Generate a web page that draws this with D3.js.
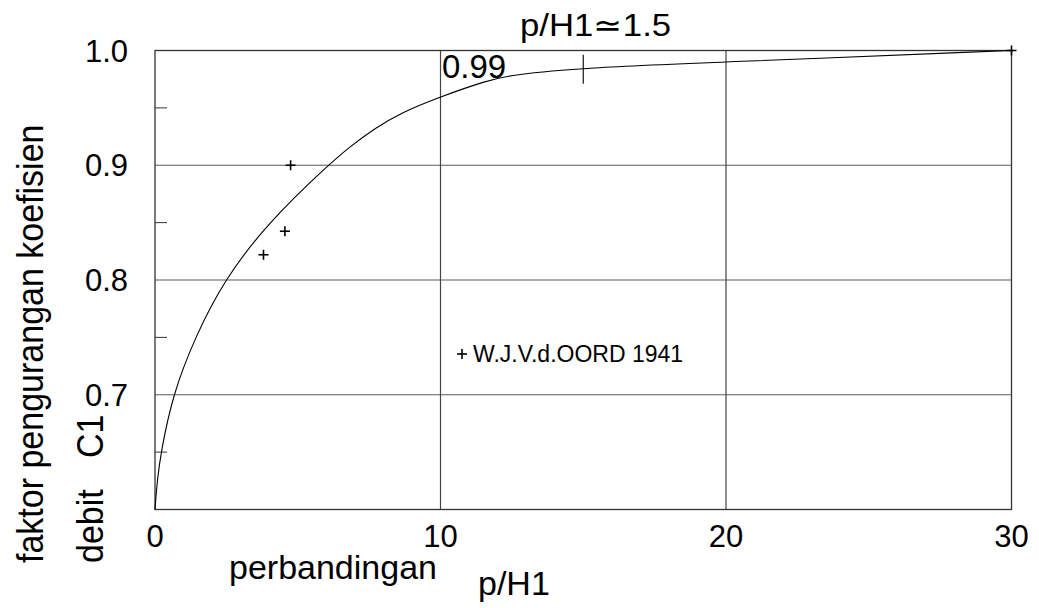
<!DOCTYPE html>
<html>
<head>
<meta charset="utf-8">
<script src="https://d3js.org/d3.v7.min.js"></script>
<style>
  body { margin: 0; background: #fff; }
  text { font-family: "Liberation Sans", Arial, sans-serif; fill: #000; }
</style>
</head>
<body>
<svg id="chart"></svg>
<script>
// curve
var curveX = [0, 0.08, 0.21, 0.62, 1.4, 2.42, 3.96, 6.06, 6.83, 7.71, 8.58, 10, 11.62, 12.45, 15, 20, 30];
var curveY = [0.6, 0.626, 0.65, 0.7, 0.75, 0.8, 0.85, 0.9, 0.9163, 0.9323, 0.9454, 0.9598, 0.9737, 0.9787, 0.985, 0.99, 1.0];

// W.J.V.d.OORD 1941 measurements
var oordX = [3.8, 4.55, 4.75, 30];
var oordY = [0.822, 0.8425, 0.9, 1.0];

var xTicks = [0, 10, 20, 30];
var yTicks = [1.0, 0.9, 0.8, 0.7];
var yMinor = [0.95, 0.85, 0.75, 0.65];

var W = 1039, H = 608;

var svg = d3.select('#chart').attr('width', W).attr('height', H);

var x = d3.scaleLinear().domain([0, 30]).range([155, 1011.5]);
var y = d3.scaleLinear().domain([0.6, 1.0]).range([509.5, 50.5]);

// grid
svg.append('g').selectAll('line').data(yTicks.slice(1)).enter().append('line')
    .attr('x1', x(0)).attr('x2', x(30))
    .attr('y1', function (d) { return y(d); }).attr('y2', function (d) { return y(d); })
    .style('stroke', '#5a5a5a').style('stroke-width', 1.2);

svg.append('g').selectAll('line').data([10, 20]).enter().append('line')
    .attr('x1', function (d) { return x(d); }).attr('x2', function (d) { return x(d); })
    .attr('y1', y(0.6)).attr('y2', y(1.0))
    .style('stroke', '#444').style('stroke-width', 1.2);

// minor ticks on the left
svg.append('g').selectAll('line').data(yMinor).enter().append('line')
    .attr('x1', x(0)).attr('x2', x(0) + 12)
    .attr('y1', function (d) { return y(d); }).attr('y2', function (d) { return y(d); })
    .style('stroke', '#333').style('stroke-width', 1);

// frame
svg.append('rect')
    .attr('x', x(0)).attr('y', y(1.0))
    .attr('width', x(30) - x(0)).attr('height', y(0.6) - y(1.0))
    .style('fill', 'none').style('stroke', '#333').style('stroke-width', 1.3);

// curve (smoothed through the readings)
var pts = curveX.map(function (d, i) { return [d, curveY[i]]; });
var line = d3.line()
    .x(function (d) { return x(d[0]); })
    .y(function (d) { return y(d[1]); })
    .curve(d3.curveBasis);

svg.append('path').datum(pts)
    .attr('d', line)
    .style('fill', 'none').style('stroke', '#000').style('stroke-width', 1.1);

// mark at p/H1 = 1.5
svg.append('line')
    .attr('x1', x(15)).attr('x2', x(15))
    .attr('y1', y(0.9962)).attr('y2', y(0.971))
    .style('stroke', '#000').style('stroke-width', 1.1);

// plus markers
function plus(g, cx, cy) {
    g.append('line').attr('x1', cx - 5).attr('x2', cx + 5).attr('y1', cy).attr('y2', cy)
        .style('stroke', '#000').style('stroke-width', 1.6);
    g.append('line').attr('x1', cx).attr('x2', cx).attr('y1', cy - 5).attr('y2', cy + 5)
        .style('stroke', '#000').style('stroke-width', 1.6);
}
var pg = svg.append('g');
oordX.forEach(function (d, i) { plus(pg, x(d), y(oordY[i])); });

// tick labels
svg.append('g').selectAll('text').data(xTicks).enter().append('text')
    .attr('x', function (d) { return x(d); }).attr('y', 547)
    .attr('text-anchor', 'middle')
    .style('font-size', '31px')
    .text(function (d) { return d; });

svg.append('g').selectAll('text').data(yTicks).enter().append('text')
    .attr('x', 85).attr('y', function (d) { return y(d) + 11; })
    .style('font-size', '31px')
    .text(function (d) { return d.toFixed(1); });

// axis titles
svg.append('text')
    .attr('x', 229).attr('y', 579)
    .style('font-size', '34px')
    .text('perbandingan');
svg.append('text')
    .attr('x', 478).attr('y', 595)
    .style('font-size', '34px')
    .text('p/H1');

svg.append('text')
    .attr('transform', 'translate(43,563) scale(1.1,1) rotate(-90)')
    .style('font-size', '34px')
    .text('faktor pengurangan koefisien');
svg.append('text')
    .attr('transform', 'translate(103,563) scale(1.1,1) rotate(-90)')
    .style('font-size', '34px')
    .text('debit');
svg.append('text')
    .attr('transform', 'translate(103,458) scale(1.1,1) rotate(-90)')
    .style('font-size', '34px')
    .text('C1');

// annotations
svg.append('text')
    .attr('x', 442).attr('y', 78)
    .style('font-size', '33px')
    .text('0.99');
svg.append('text')
    .attr('transform', 'translate(520,36) scale(1.12,1)')
    .style('font-size', '31px')
    .text('p/H1\u22431.5');

// legend
plus(svg, 462, 354);
svg.append('text')
    .attr('x', 473).attr('y', 362)
    .style('font-size', '23px')
    .text('W.J.V.d.OORD 1941');
</script>
</body>
</html>
